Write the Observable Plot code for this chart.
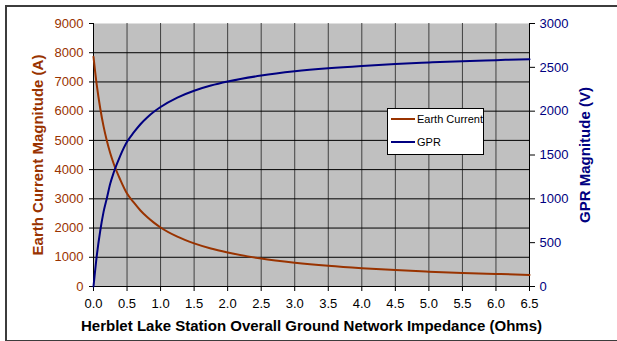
<!DOCTYPE html>
<html>
<head>
<meta charset="utf-8">
<script src="https://cdn.jsdelivr.net/npm/d3@7"></script>
<script src="https://cdn.jsdelivr.net/npm/@observablehq/plot@0.6"></script>
<style>
  html, body { margin: 0; padding: 0; background: #fff; }
  #wrap { position: relative; width: 617px; height: 341px; overflow: hidden; font-family: "Liberation Sans", Arial, sans-serif; }
  #border { position: absolute; left: 5px; top: 5px; width: 640px; height: 333px; border: 2px solid #3c3c3c; border-right: none; box-sizing: content-box; }
  #chart { position: absolute; left: 0; top: 0; }
  #legend { position: absolute; left: 387px; top: 108px; width: 95px; height: 45px; background: #fff; border: 1px solid #000; font-size: 11px; color: #000; overflow: hidden; }
  .item { position: absolute; left: 3px; display: flex; align-items: center; white-space: nowrap; }
  .item svg { margin-right: 2px; flex: none; }
</style>
</head>
<body>
<div id="wrap">
  <div id="border"></div>
  <div id="chart"></div>
  <div id="legend"></div>
</div>
<script>
// Ground network impedance (Ohms)
const impedance = [0, 0.05, 0.1, 0.15, 0.2, 0.25, 0.3, 0.4, 0.5, 0.6, 0.7, 0.8, 0.9, 1.0, 1.25, 1.5, 1.75, 2.0, 2.5, 3.0, 3.5, 4.0, 4.5, 5.0, 5.5, 6.0, 6.5];
// Earth current magnitude (A)
const earthCurrent = [7860, 6870, 6100, 5480, 4980, 4560, 4210, 3650, 3180, 2875, 2600, 2375, 2185, 2020, 1705, 1475, 1300, 1165, 955, 813, 707, 626, 561, 509, 465, 429, 397];
// GPR magnitude (V)
const gpr = [0, 358, 633, 851, 1010, 1174, 1297, 1493, 1650, 1757, 1851, 1928, 1993, 2048, 2155, 2233, 2292, 2338, 2406, 2454, 2489, 2516, 2538, 2555, 2570, 2582, 2593];

const xTicks = [0, 0.5, 1, 1.5, 2, 2.5, 3, 3.5, 4, 4.5, 5, 5.5, 6, 6.5];
const leftTicks = [0, 1000, 2000, 3000, 4000, 5000, 6000, 7000, 8000, 9000];
const rightTicks = [0, 500, 1000, 1500, 2000, 2500, 3000];

const seriesNames = ["Earth Current", "GPR"];
const seriesColors = ["#993300", "#000080"];

const xTitle = "Herblet Lake Station Overall Ground Network Impedance (Ohms)";
const leftTitle = "Earth Current Magnitude (A)";
const rightTitle = "GPR Magnitude (V)";

const leftMax = 9000, rightMax = 3000;
const ratio = leftMax / rightMax;

const data = impedance.map((z, i) => ({ z, current: earthCurrent[i], gpr: gpr[i] }));

const font = "Liberation Sans, Arial, sans-serif";

const chart = Plot.plot({
  width: 617,
  height: 341,
  marginLeft: 93,
  marginRight: 88,
  marginTop: 23,
  marginBottom: 55,
  style: { fontFamily: font, background: "transparent", overflow: "visible" },
  x: { domain: [0, 6.5] },
  y: { domain: [0, leftMax] },
  marks: [
    Plot.frame({ fill: "#C0C0C0", stroke: null }),
    Plot.gridX(xTicks.filter(d => d > 0 && d < 6.5), { stroke: "#404040", strokeOpacity: 1, strokeWidth: 1 }),
    Plot.gridY(leftTicks.filter(d => d > 0 && d < leftMax), { stroke: "#000", strokeOpacity: 1, strokeWidth: 1 }),
    Plot.ruleX([0], { stroke: "#000" }),
    Plot.ruleX([6.5], { stroke: "#000" }),
    Plot.ruleY([0], { stroke: "#000" }),
    Plot.axisY(leftTicks, { anchor: "left", tickSize: 4, tickPadding: 6, fill: "#993300", stroke: "#000", fontSize: 13, label: null, tickFormat: d => String(d) }),
    Plot.axisY(rightTicks.map(v => v * ratio), { anchor: "right", tickSize: 5, tickPadding: 5, fill: "#000080", stroke: "#000", fontSize: 13, label: null, tickFormat: d => String(Math.round(d / ratio)) }),
    Plot.axisX(xTicks, { anchor: "bottom", tickSize: 5, tickPadding: 7, fill: "#000", stroke: "#000", fontSize: 13, label: null, tickFormat: d => d.toFixed(1) }),
    Plot.line(data, { x: "z", y: "current", stroke: seriesColors[0], strokeWidth: 2, curve: "monotone-x" }),
    Plot.line(data, { x: "z", y: d => d.gpr * ratio, stroke: seriesColors[1], strokeWidth: 2, curve: "monotone-x" }),
    Plot.text([leftTitle], { text: d => d, frameAnchor: "left", dx: -55, rotate: -90, fill: "#993300", fontWeight: "bold", fontSize: 15, textAnchor: "middle", lineAnchor: "middle" }),
    Plot.text([rightTitle], { text: d => d, frameAnchor: "right", dx: 56, rotate: -90, fill: "#000080", fontWeight: "bold", fontSize: 15, textAnchor: "middle", lineAnchor: "middle" }),
    Plot.text([xTitle], { text: d => d, frameAnchor: "bottom", dy: 40, fill: "#000", fontWeight: "bold", fontSize: 15, textAnchor: "middle", lineAnchor: "middle" })
  ]
});
document.getElementById("chart").appendChild(chart);

const legend = document.getElementById("legend");
seriesNames.forEach((name, i) => {
  const item = document.createElement("div");
  item.className = "item";
  item.style.top = (i === 0 ? 4 : 27) + "px";
  item.innerHTML = `<svg width="24" height="10"><line x1="0" x2="24" y1="5" y2="5" stroke="${seriesColors[i]}" stroke-width="2"/></svg><span>${name}</span>`;
  legend.appendChild(item);
});
</script>
</body>
</html>
